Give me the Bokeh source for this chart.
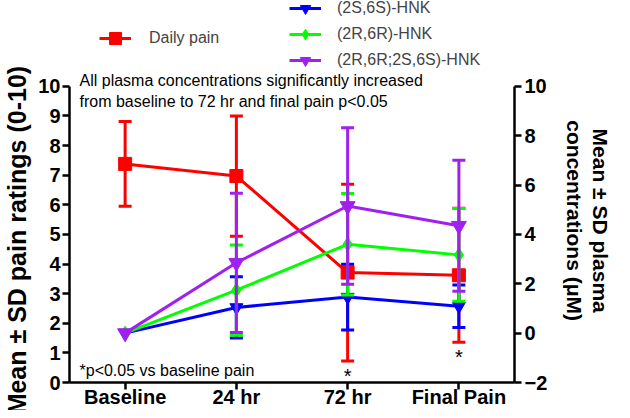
from bokeh.plotting import figure
from bokeh.models import (Range1d, LinearAxis, FixedTicker, Legend, LegendItem,
                          Label, ColumnDataSource, FactorRange)
from bokeh.embed import file_html
from bokeh.resources import INLINE
from bokeh.core.properties import value

# ---------------- data ----------------
categories = ["Baseline", "24 hr", "72 hr", "Final Pain"]

pain_mean = [7.38, 6.97, 3.71, 3.62]
pain_sd = [1.43, 2.03, 2.98, 2.26]
pain_sig = ["", "", "*", "*"]

ss_mean = [0.0, 1.04, 1.46, 1.09]      # (2S,6S)-HNK
ss_sd = [0.0, 1.24, 1.33, 0.86]
rr_mean = [0.0, 1.74, 3.60, 3.17]      # (2R,6R)-HNK
rr_sd = [0.0, 1.83, 2.06, 1.88]
mix_mean = [0.0, 2.85, 5.15, 4.35]     # (2R,6R;2S,6S)-HNK
mix_sd = [0.0, 2.82, 3.17, 2.65]

left_ticks = [0, 1, 2, 3, 4, 5, 6, 7, 8, 9, 10]
right_ticks = [-2, 0, 2, 4, 6, 8, 10]
left_bounds = (0, 10)
right_bounds = (-2, 10)

left_title = "Mean ± SD pain ratings (0-10)"
right_title = ["Mean ± SD plasma", "concentrations (μM)"]

FONT = "Liberation Sans"
NBSP = "\u00a0"

# ---------------- layout ----------------
FIG_W, FIG_H = 614, 410
BORDER_BOTTOM = 27
FRAME_H = FIG_H - BORDER_BOTTOM          # frame spans the full height above the x axis
AXIS_TOP_PX = 86                         # pixel row of the top of both y axes

left_px = (FRAME_H - AXIS_TOP_PX) / (left_bounds[1] - left_bounds[0])
right_px = (FRAME_H - AXIS_TOP_PX) / (right_bounds[1] - right_bounds[0])
left_top = left_bounds[1] + AXIS_TOP_PX / left_px
right_top = right_bounds[1] + AXIS_TOP_PX / right_px

p = figure(width=FIG_W, height=FIG_H, x_range=FactorRange(*categories),
           y_range=Range1d(left_bounds[0], left_top), output_backend="svg",
           toolbar_location=None, min_border_left=63, min_border_right=99,
           min_border_top=0, min_border_bottom=BORDER_BOTTOM)
p.extra_y_ranges = {"conc": Range1d(right_bounds[0], right_top)}
p.outline_line_color = None
p.xgrid.visible = False
p.ygrid.visible = False


def style_axis(ax, size="20px"):
    ax.axis_line_width = 2.5
    ax.major_tick_line_width = 2.5
    ax.major_tick_in = 0
    ax.major_tick_out = 7
    ax.minor_tick_line_color = None
    ax.minor_tick_in = 0
    ax.minor_tick_out = 0
    ax.major_label_text_font = FONT
    ax.major_label_text_font_style = "bold"
    ax.major_label_text_font_size = size
    ax.major_label_text_color = "black"
    ax.axis_label_text_font = FONT
    ax.axis_label_text_font_style = "bold"
    ax.axis_label_text_color = "black"


xa = p.xaxis[0]
style_axis(xa)
xa.major_label_standoff = -4

# axis titles are centred on the whole (tall) frame; non-breaking spaces shift
# them so they sit centred on the drawn part of each axis
ya = p.yaxis[0]
style_axis(ya)
ya.bounds = left_bounds
ya.ticker = FixedTicker(ticks=left_ticks)
ya.major_label_standoff = 2
ya.axis_label = left_title + NBSP * 14
ya.axis_label_text_font_size = "25px"
ya.axis_label_standoff = 4

ra = LinearAxis(y_range_name="conc", ticker=FixedTicker(ticks=right_ticks),
                bounds=right_bounds)
style_axis(ra)
ra.major_label_standoff = 3
p.add_layout(ra, "right")

# the two lines of the right-hand title, innermost line first
for line, standoff in [(right_title[1], 12), (right_title[0], 0)]:
    t_ax = LinearAxis(y_range_name="conc", ticker=FixedTicker(ticks=[]),
                      bounds=right_bounds)
    style_axis(t_ax)
    t_ax.axis_line_color = None
    t_ax.major_tick_line_color = None
    t_ax.major_tick_out = 0
    t_ax.major_label_standoff = 0
    t_ax.axis_label = NBSP * 10 + line
    t_ax.axis_label_text_font_size = "21px"
    t_ax.axis_label_standoff = standoff
    p.add_layout(t_ax, "right")

series = [
    dict(name="Daily pain", mean=pain_mean, sd=pain_sd, color="#FF0000",
         marker="square", size=13, rng="default"),
    dict(name="(2S,6S)-HNK", mean=ss_mean, sd=ss_sd, color="#0000FF",
         marker="inverted_triangle", size=13, rng="conc"),
    dict(name="(2R,6R)-HNK", mean=rr_mean, sd=rr_sd, color="#00FF00",
         marker="diamond", size=14, rng="conc"),
    dict(name="(2R,6R;2S,6S)-HNK", mean=mix_mean, sd=mix_sd, color="#A020F0",
         marker="inverted_triangle", size=15, rng="conc"),
]

handles = {}
for s in series:
    bars = [(c, m - d, m + d) for c, m, d in zip(categories, s["mean"], s["sd"]) if d > 0]
    esrc = ColumnDataSource(dict(x=[b[0] for b in bars], lo=[b[1] for b in bars],
                                 hi=[b[2] for b in bars]))
    src = ColumnDataSource(dict(x=categories, y=s["mean"]))
    p.segment(x0="x", y0="lo", x1="x", y1="hi", source=esrc, line_color=s["color"],
              line_width=3, y_range_name=s["rng"])
    for key in ("lo", "hi"):
        p.scatter(x="x", y=key, source=esrc, marker="dash", size=13,
                  line_color=s["color"], line_width=3, y_range_name=s["rng"])
    ln = p.line(x="x", y="y", source=src, line_color=s["color"], line_width=3,
                y_range_name=s["rng"])
    mk = p.scatter(x="x", y="y", source=src, marker=s["marker"], size=s["size"],
                   fill_color=s["color"], line_color=s["color"], line_width=1,
                   y_range_name=s["rng"])
    handles[s["name"]] = [ln, mk]

# significance asterisks below the pain error bars
sig_x = [c for c, g in zip(categories, pain_sig) if g]
sig_y = [m - d for m, d, g in zip(pain_mean, pain_sd, pain_sig) if g]
sig_t = [g for g in pain_sig if g]
p.text(x=sig_x, y=sig_y, text=sig_t, text_font=value(FONT), text_font_size=value("20px"),
       text_align="center", text_baseline="top", y_offset=4, text_color="black")


# legends (positions in pixels from the frame's bottom-left corner)
def make_legend(names, x_px, top_px, gh, standoff):
    height = gh * len(names)
    lg = Legend(items=[LegendItem(label=n, renderers=handles[n]) for n in names],
                location=(x_px, FRAME_H - top_px - height), orientation="vertical",
                glyph_width=32, glyph_height=gh, label_standoff=standoff,
                padding=0, margin=0, spacing=0, border_line_color=None,
                background_fill_alpha=0, label_text_font=FONT,
                label_text_font_size="16px", label_height=gh)
    return lg


p.add_layout(make_legend(["Daily pain"], 30, 24, 30, 18))
p.add_layout(make_legend(["(2S,6S)-HNK", "(2R,6R)-HNK", "(2R,6R;2S,6S)-HNK"],
                         220, -4, 26, 16))

# annotations
for txt, yy in [("All plasma concentrations significantly increased", 10.2),
                ("from baseline to 72 hr and final pain p<0.05", 9.47),
                ("*p<0.05 vs baseline pain", 0.41)]:
    p.add_layout(Label(x=10, y=yy, x_units="screen", y_units="data", text=txt,
                       text_font=FONT, text_font_size="16px", text_baseline="middle",
                       text_color="black"))

open("out.html", "w").write(file_html(p, INLINE))
